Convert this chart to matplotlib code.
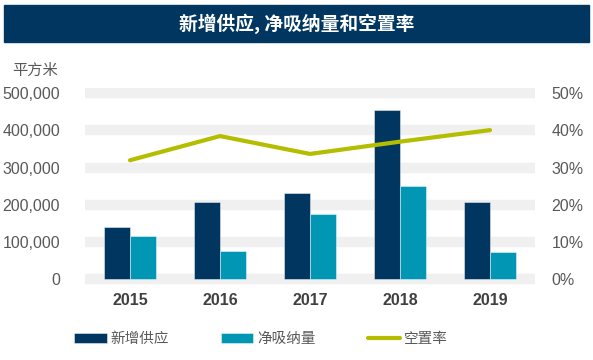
import matplotlib
matplotlib.use("Agg")
import matplotlib.pyplot as plt
import numpy as np
from matplotlib.ticker import FuncFormatter

years = ["2015", "2016", "2017", "2018", "2019"]
new_supply = [141000, 207000, 231000, 454000, 208000]
net_absorption = [116000, 76000, 175000, 252000, 73000]
vacancy = [0.32, 0.385, 0.337, 0.37, 0.401]
left_ticks = [0, 100000, 200000, 300000, 400000, 500000]
right_ticks = [0, 0.1, 0.2, 0.3, 0.4, 0.5]

DARK = "#00365f"
TEAL = "#0096b4"
LIME = "#b5bd00"
GREY = "#595959"
CJK = ["Noto Sans CJK SC", "DejaVu Sans"]

fig = plt.figure(figsize=(5.93, 3.6), dpi=100)
fig.patches.append(plt.Rectangle((4/593, 1-42/360), 585/593, 37/360,
                                 transform=fig.transFigure, color=DARK, zorder=0))
fig.text(0.5, 1-23.5/360, "新增供应, 净吸纳量和空置率", color="white", fontsize=13.5,
         fontweight="bold", family=CJK, ha="center", va="center")
fig.text(12/593, 1-70/360, "平方米", color=GREY, fontsize=11, family=CJK,
         ha="left", va="center")

ax = fig.add_axes([85/593, 1-284.9/360, 450/593, (284.9-87.7)/360])
x = np.arange(len(years))
w = 0.29
ax.bar(x - w/2, new_supply, w, color=DARK, edgecolor=(1, 1, 1, 0.45), linewidth=0.7,
       label="新增供应", zorder=2)
ax.bar(x + w/2, net_absorption, w, color=TEAL, edgecolor=(1, 1, 1, 0.45), linewidth=0.7,
       label="净吸纳量", zorder=2)
for t in left_ticks:
    ax.axhline(t, color="#f0f0f0", linewidth=7.5, zorder=0)
ax.set_xlim(-0.5, len(years) - 0.5)
ax.set_ylim(-15000, 515000)
ax.set_yticks(left_ticks)
ax.yaxis.set_major_formatter(FuncFormatter(lambda v, p: f"{int(v):,}"))
ax.set_xticks(x)
ax.set_xticklabels(years)
for s in ax.spines.values():
    s.set_visible(False)
ax.tick_params(axis="both", length=0)
ax.tick_params(axis="y", labelsize=11.5, labelcolor=GREY, pad=18)
ax.tick_params(axis="x", labelsize=11.5, labelcolor="#404040", pad=6)
for lab in ax.get_yticklabels():
    lab.set_family("Liberation Sans")
for lab in ax.get_xticklabels():
    lab.set_family("Liberation Sans")
    lab.set_fontweight("bold")

ax2 = ax.twinx()
ax2.plot(x, vacancy, color=LIME, linewidth=3, label="空置率", zorder=3,
         solid_capstyle="round")
ax2.set_ylim(-0.015, 0.515)
ax2.set_yticks(right_ticks)
ax2.yaxis.set_major_formatter(FuncFormatter(lambda v, p: f"{v*100:.0f}%"))
for s in ax2.spines.values():
    s.set_visible(False)
ax2.tick_params(axis="y", length=0, labelsize=11.5, labelcolor=GREY, pad=12)
for lab in ax2.get_yticklabels():
    lab.set_family("Liberation Sans")

h1, l1 = ax.get_legend_handles_labels()
h2, l2 = ax2.get_legend_handles_labels()
leg = fig.legend(h1 + h2, l1 + l2, loc="center", bbox_to_anchor=(261/593, 1-339/360),
                 ncol=3, frameon=False, handlelength=2.2, handleheight=0.65,
                 handletextpad=0.25, columnspacing=3.6,
                 prop={"family": CJK, "size": 10.5})
for t in leg.get_texts():
    t.set_color(GREY)

fig.savefig("out.png", dpi=100)
